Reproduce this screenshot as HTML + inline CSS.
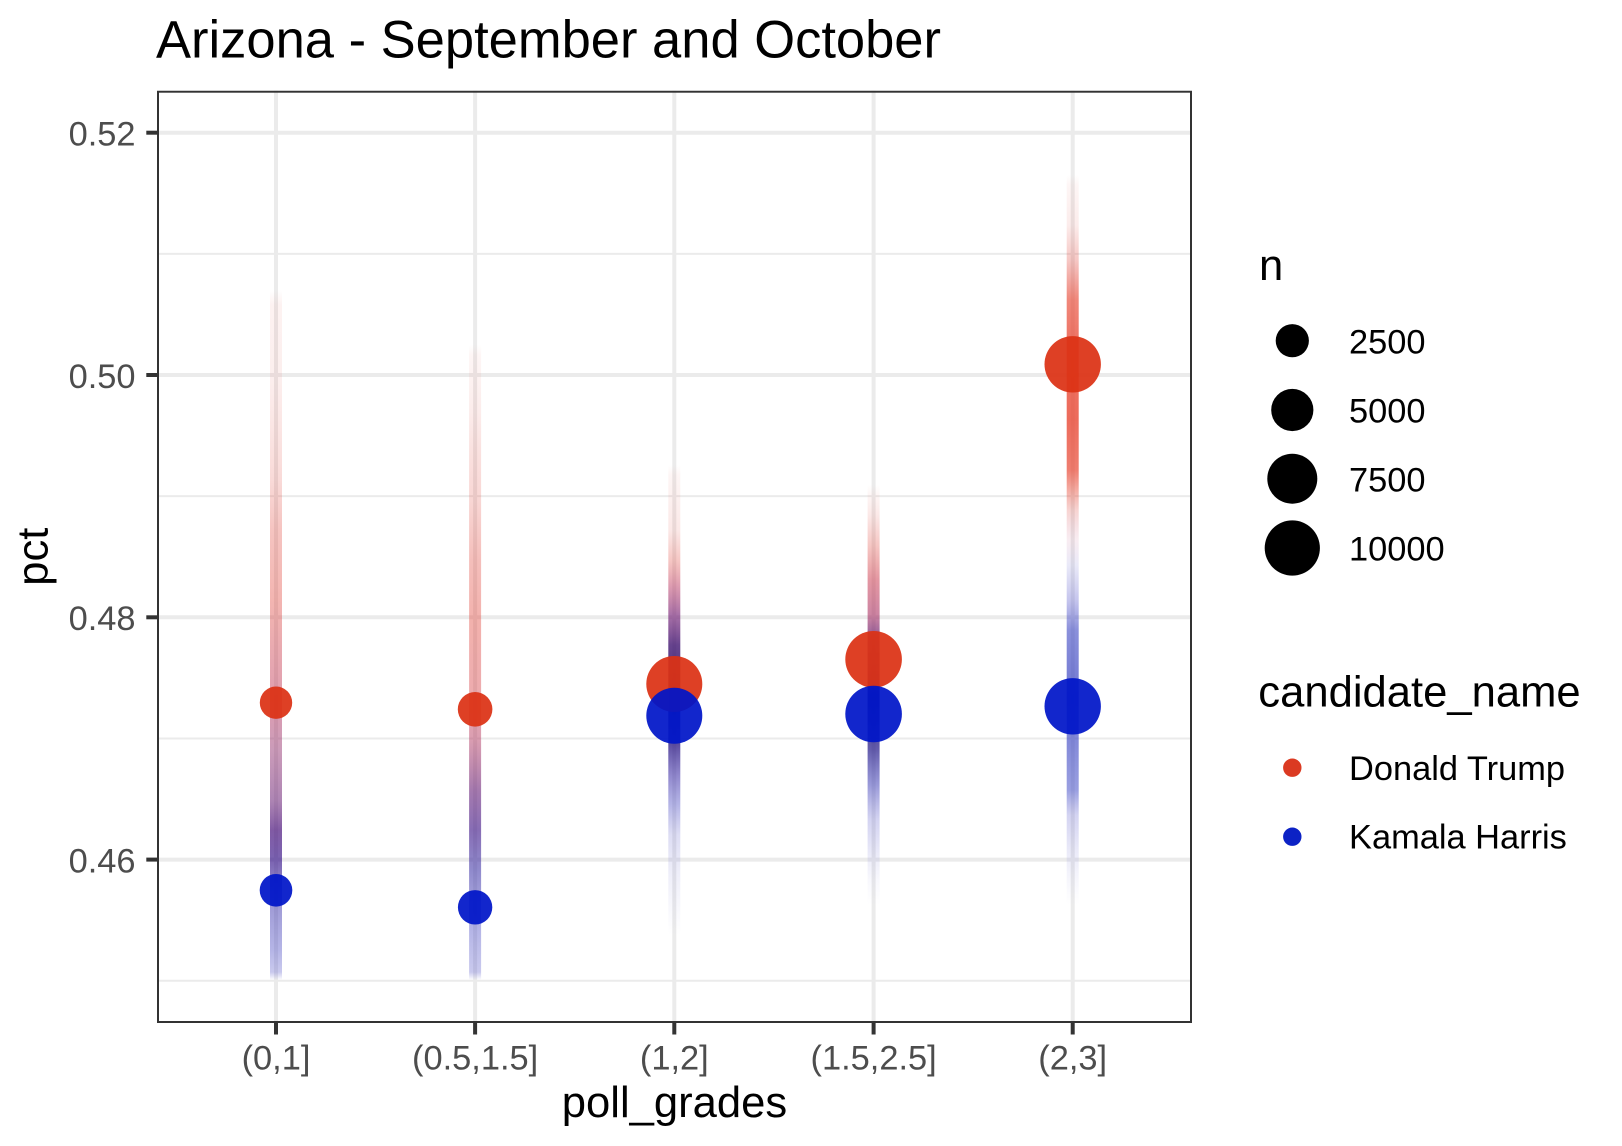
<!DOCTYPE html>
<html>
<head>
<meta charset="utf-8">
<style>
  html, body { margin: 0; padding: 0; background: #ffffff; }
  svg { display: block; }
  text { font-family: "Liberation Sans", Arial, sans-serif; }
</style>
</head>
<body>
<svg width="1622" height="1146" viewBox="0 0 1622 1146" xmlns="http://www.w3.org/2000/svg">
  <defs>
    <linearGradient id="g1" gradientUnits="userSpaceOnUse" x1="0" y1="0" x2="0" y2="1146">
      <stop offset="0.2531" stop-color="rgb(225,70,60)" stop-opacity="0"/>
      <stop offset="0.2661" stop-color="rgb(225,70,60)" stop-opacity="0.07"/>
      <stop offset="0.3316" stop-color="rgb(225,70,60)" stop-opacity="0.09"/>
      <stop offset="0.3752" stop-color="rgb(225,70,60)" stop-opacity="0.14"/>
      <stop offset="0.4188" stop-color="rgb(225,70,60)" stop-opacity="0.2"/>
      <stop offset="0.4625" stop-color="rgb(225,70,60)" stop-opacity="0.32"/>
      <stop offset="0.5236" stop-color="rgb(225,70,60)" stop-opacity="0.4"/>
      <stop offset="0.5672" stop-color="rgb(205,65,80)" stop-opacity="0.45"/>
      <stop offset="0.6108" stop-color="rgb(190,60,95)" stop-opacity="0.5"/>
      <stop offset="0.6545" stop-color="rgb(150,55,115)" stop-opacity="0.5"/>
      <stop offset="0.6981" stop-color="rgb(115,45,125)" stop-opacity="0.58"/>
      <stop offset="0.7243" stop-color="rgb(75,20,125)" stop-opacity="0.7"/>
      <stop offset="0.7504" stop-color="rgb(60,25,140)" stop-opacity="0.68"/>
      <stop offset="0.7853" stop-color="rgb(75,65,175)" stop-opacity="0.55"/>
      <stop offset="0.8290" stop-color="rgb(90,90,200)" stop-opacity="0.45"/>
      <stop offset="0.8482" stop-color="rgb(100,100,205)" stop-opacity="0.35"/>
      <stop offset="0.8551" stop-color="rgb(100,100,205)" stop-opacity="0"/>
    </linearGradient>
    <linearGradient id="g2" gradientUnits="userSpaceOnUse" x1="0" y1="0" x2="0" y2="1146">
      <stop offset="0.3010" stop-color="rgb(225,70,60)" stop-opacity="0"/>
      <stop offset="0.3098" stop-color="rgb(225,70,60)" stop-opacity="0.05"/>
      <stop offset="0.3578" stop-color="rgb(225,70,60)" stop-opacity="0.1"/>
      <stop offset="0.3927" stop-color="rgb(225,70,60)" stop-opacity="0.16"/>
      <stop offset="0.4363" stop-color="rgb(225,70,60)" stop-opacity="0.22"/>
      <stop offset="0.4887" stop-color="rgb(225,70,60)" stop-opacity="0.35"/>
      <stop offset="0.5410" stop-color="rgb(225,70,60)" stop-opacity="0.42"/>
      <stop offset="0.6021" stop-color="rgb(215,70,75)" stop-opacity="0.45"/>
      <stop offset="0.6457" stop-color="rgb(180,60,100)" stop-opacity="0.5"/>
      <stop offset="0.6894" stop-color="rgb(110,40,125)" stop-opacity="0.62"/>
      <stop offset="0.7243" stop-color="rgb(70,30,140)" stop-opacity="0.65"/>
      <stop offset="0.7592" stop-color="rgb(70,60,170)" stop-opacity="0.6"/>
      <stop offset="0.8115" stop-color="rgb(90,90,200)" stop-opacity="0.45"/>
      <stop offset="0.8482" stop-color="rgb(100,100,205)" stop-opacity="0.35"/>
      <stop offset="0.8551" stop-color="rgb(100,100,205)" stop-opacity="0"/>
    </linearGradient>
    <linearGradient id="g3" gradientUnits="userSpaceOnUse" x1="0" y1="0" x2="0" y2="1146">
      <stop offset="0.4058" stop-color="rgb(225,70,60)" stop-opacity="0"/>
      <stop offset="0.4145" stop-color="rgb(225,70,60)" stop-opacity="0.05"/>
      <stop offset="0.4625" stop-color="rgb(225,70,60)" stop-opacity="0.12"/>
      <stop offset="0.4887" stop-color="rgb(225,70,60)" stop-opacity="0.3"/>
      <stop offset="0.5105" stop-color="rgb(190,60,100)" stop-opacity="0.5"/>
      <stop offset="0.5366" stop-color="rgb(120,35,120)" stop-opacity="0.65"/>
      <stop offset="0.5628" stop-color="rgb(60,15,110)" stop-opacity="0.78"/>
      <stop offset="0.6108" stop-color="rgb(25,10,100)" stop-opacity="0.85"/>
      <stop offset="0.6501" stop-color="rgb(40,20,130)" stop-opacity="0.75"/>
      <stop offset="0.6763" stop-color="rgb(70,55,170)" stop-opacity="0.6"/>
      <stop offset="0.7024" stop-color="rgb(90,90,200)" stop-opacity="0.45"/>
      <stop offset="0.7286" stop-color="rgb(120,120,210)" stop-opacity="0.25"/>
      <stop offset="0.7635" stop-color="rgb(120,120,210)" stop-opacity="0.12"/>
      <stop offset="0.7897" stop-color="rgb(120,120,210)" stop-opacity="0.06"/>
      <stop offset="0.8159" stop-color="rgb(120,120,210)" stop-opacity="0"/>
    </linearGradient>
    <linearGradient id="g4" gradientUnits="userSpaceOnUse" x1="0" y1="0" x2="0" y2="1146">
      <stop offset="0.4232" stop-color="rgb(225,70,60)" stop-opacity="0"/>
      <stop offset="0.4319" stop-color="rgb(225,70,60)" stop-opacity="0.05"/>
      <stop offset="0.4494" stop-color="rgb(225,70,60)" stop-opacity="0.12"/>
      <stop offset="0.4756" stop-color="rgb(225,70,60)" stop-opacity="0.3"/>
      <stop offset="0.5061" stop-color="rgb(205,65,85)" stop-opacity="0.55"/>
      <stop offset="0.5366" stop-color="rgb(170,50,100)" stop-opacity="0.6"/>
      <stop offset="0.5585" stop-color="rgb(90,25,115)" stop-opacity="0.72"/>
      <stop offset="0.6108" stop-color="rgb(25,10,100)" stop-opacity="0.85"/>
      <stop offset="0.6545" stop-color="rgb(40,30,140)" stop-opacity="0.72"/>
      <stop offset="0.6850" stop-color="rgb(70,70,185)" stop-opacity="0.55"/>
      <stop offset="0.7155" stop-color="rgb(110,110,210)" stop-opacity="0.3"/>
      <stop offset="0.7504" stop-color="rgb(110,110,210)" stop-opacity="0.12"/>
      <stop offset="0.7679" stop-color="rgb(110,110,210)" stop-opacity="0.05"/>
      <stop offset="0.7897" stop-color="rgb(110,110,210)" stop-opacity="0"/>
    </linearGradient>
    <linearGradient id="g5" gradientUnits="userSpaceOnUse" x1="0" y1="0" x2="0" y2="1146">
      <stop offset="0.1527" stop-color="rgb(225,70,60)" stop-opacity="0"/>
      <stop offset="0.1614" stop-color="rgb(225,70,60)" stop-opacity="0.05"/>
      <stop offset="0.1963" stop-color="rgb(225,70,60)" stop-opacity="0.1"/>
      <stop offset="0.2269" stop-color="rgb(225,70,60)" stop-opacity="0.3"/>
      <stop offset="0.2618" stop-color="rgb(232,70,50)" stop-opacity="0.65"/>
      <stop offset="0.2967" stop-color="rgb(232,70,50)" stop-opacity="0.75"/>
      <stop offset="0.3665" stop-color="rgb(232,70,50)" stop-opacity="0.8"/>
      <stop offset="0.4101" stop-color="rgb(232,70,50)" stop-opacity="0.7"/>
      <stop offset="0.4276" stop-color="rgb(232,70,50)" stop-opacity="0.45"/>
      <stop offset="0.4450" stop-color="rgb(225,80,70)" stop-opacity="0.25"/>
      <stop offset="0.4712" stop-color="rgb(200,100,140)" stop-opacity="0.12"/>
      <stop offset="0.4930" stop-color="rgb(110,110,210)" stop-opacity="0.15"/>
      <stop offset="0.5236" stop-color="rgb(90,90,205)" stop-opacity="0.35"/>
      <stop offset="0.5497" stop-color="rgb(60,70,195)" stop-opacity="0.6"/>
      <stop offset="0.6108" stop-color="rgb(50,60,190)" stop-opacity="0.7"/>
      <stop offset="0.6894" stop-color="rgb(70,80,200)" stop-opacity="0.55"/>
      <stop offset="0.7112" stop-color="rgb(110,110,210)" stop-opacity="0.3"/>
      <stop offset="0.7417" stop-color="rgb(110,110,210)" stop-opacity="0.15"/>
      <stop offset="0.7679" stop-color="rgb(110,110,210)" stop-opacity="0.06"/>
      <stop offset="0.7897" stop-color="rgb(110,110,210)" stop-opacity="0"/>
    </linearGradient>
    <clipPath id="panel">
      <rect x="157" y="90.7" width="1035" height="932.3"/>
    </clipPath>
  </defs>

  <rect x="0" y="0" width="1622" height="1146" fill="#ffffff"/>

  <!-- Title -->
  <text x="156" y="57.3" font-size="52.5" fill="#000000">Arizona - September and October</text>

  <g clip-path="url(#panel)">
    <rect x="157" y="90.7" width="1035" height="932.3" fill="#ffffff"/>
    <!-- minor grid -->
    <g stroke="#EBEBEB" stroke-width="2">
      <line x1="157" x2="1192" y1="253.85" y2="253.85"/>
      <line x1="157" x2="1192" y1="496.15" y2="496.15"/>
      <line x1="157" x2="1192" y1="738.45" y2="738.45"/>
      <line x1="157" x2="1192" y1="980.75" y2="980.75"/>
    </g>
    <!-- major grid -->
    <g stroke="#EBEBEB" stroke-width="4">
      <line x1="157" x2="1192" y1="132.7" y2="132.7"/>
      <line x1="157" x2="1192" y1="375" y2="375"/>
      <line x1="157" x2="1192" y1="617.3" y2="617.3"/>
      <line x1="157" x2="1192" y1="859.6" y2="859.6"/>
      <line x1="276" x2="276" y1="90" y2="1024"/>
      <line x1="475.1" x2="475.1" y1="90" y2="1024"/>
      <line x1="674.3" x2="674.3" y1="90" y2="1024"/>
      <line x1="873.6" x2="873.6" y1="90" y2="1024"/>
      <line x1="1072.7" x2="1072.7" y1="90" y2="1024"/>
    </g>

    <!-- faint distribution bands -->
    <rect x="270" y="170" width="12" height="820" rx="5" fill="url(#g1)"/>
    <rect x="469.1" y="170" width="12" height="820" rx="5" fill="url(#g2)"/>
    <rect x="668.3" y="170" width="12" height="820" rx="5" fill="url(#g3)"/>
    <rect x="867.6" y="170" width="12" height="820" rx="5" fill="url(#g4)"/>
    <rect x="1066.7" y="170" width="12" height="820" rx="5" fill="url(#g5)"/>

    <!-- mean points: Trump -->
    <g fill="rgb(220,50,20)" fill-opacity="0.93">
      <circle cx="276" cy="702.7" r="16.2"/>
      <circle cx="475.1" cy="709.3" r="17.3"/>
      <circle cx="674.3" cy="684" r="28"/>
      <circle cx="873.6" cy="659.3" r="28.3"/>
      <circle cx="1072.7" cy="364.3" r="28.2"/>
    </g>
    <!-- mean points: Harris -->
    <g fill="rgb(0,22,200)" fill-opacity="0.93">
      <circle cx="276" cy="890.3" r="16.3"/>
      <circle cx="475.1" cy="907.3" r="17.2"/>
      <circle cx="674.3" cy="715.7" r="28"/>
      <circle cx="873.6" cy="714" r="28.3"/>
      <circle cx="1072.7" cy="706.3" r="28.2"/>
    </g>

    <!-- panel border (clipped, visible inside) -->
    <rect x="157" y="90.7" width="1035" height="932.3" fill="none" stroke="#333333" stroke-width="4"/>
  </g>

  <!-- y ticks -->
  <g stroke="#333333" stroke-width="4">
    <line x1="146.3" x2="157" y1="132.7" y2="132.7"/>
    <line x1="146.3" x2="157" y1="375" y2="375"/>
    <line x1="146.3" x2="157" y1="617.3" y2="617.3"/>
    <line x1="146.3" x2="157" y1="859.6" y2="859.6"/>
  </g>
  <!-- x ticks -->
  <g stroke="#333333" stroke-width="4">
    <line x1="276" x2="276" y1="1023" y2="1034.5"/>
    <line x1="475.1" x2="475.1" y1="1023" y2="1034.5"/>
    <line x1="674.3" x2="674.3" y1="1023" y2="1034.5"/>
    <line x1="873.6" x2="873.6" y1="1023" y2="1034.5"/>
    <line x1="1072.7" x2="1072.7" y1="1023" y2="1034.5"/>
  </g>

  <!-- y tick labels -->
  <g font-size="34.4" fill="#4D4D4D" text-anchor="end">
    <text x="135.5" y="145.5">0.52</text>
    <text x="135.5" y="387.8">0.50</text>
    <text x="135.5" y="630.1">0.48</text>
    <text x="135.5" y="872.4">0.46</text>
  </g>
  <!-- x tick labels -->
  <g font-size="34.4" fill="#4D4D4D" text-anchor="middle">
    <text x="276" y="1069.5">(0,1]</text>
    <text x="475.1" y="1069.5">(0.5,1.5]</text>
    <text x="674.3" y="1069.5">(1,2]</text>
    <text x="873.6" y="1069.5">(1.5,2.5]</text>
    <text x="1072.7" y="1069.5">(2,3]</text>
  </g>

  <!-- axis titles -->
  <text x="674.5" y="1117" font-size="43.6" fill="#000000" text-anchor="middle">poll_grades</text>
  <text transform="translate(47.5,556.7) rotate(-90)" font-size="43.6" fill="#000000" text-anchor="middle">pct</text>

  <!-- legend: n -->
  <text x="1259" y="280" font-size="43.6" fill="#000000">n</text>
  <g fill="#000000">
    <circle cx="1292.3" cy="340.7" r="16.6"/>
    <circle cx="1292.3" cy="410" r="21.1"/>
    <circle cx="1292.3" cy="478.7" r="25"/>
    <circle cx="1292.3" cy="548" r="27.6"/>
  </g>
  <g font-size="34.4" fill="#000000">
    <text x="1349" y="353.3">2500</text>
    <text x="1349" y="422.6">5000</text>
    <text x="1349" y="491.3">7500</text>
    <text x="1349" y="560.6">10000</text>
  </g>

  <!-- legend: candidate_name -->
  <text x="1258.3" y="706.7" font-size="43.6" fill="#000000">candidate_name</text>
  <circle cx="1292.3" cy="767.7" r="9.2" fill="rgb(219,58,34)"/>
  <circle cx="1292.3" cy="836.7" r="9.2" fill="rgb(12,34,197)"/>
  <g font-size="34.4" fill="#000000">
    <text x="1349" y="780">Donald Trump</text>
    <text x="1349" y="848.5">Kamala Harris</text>
  </g>
</svg>
</body>
</html>
